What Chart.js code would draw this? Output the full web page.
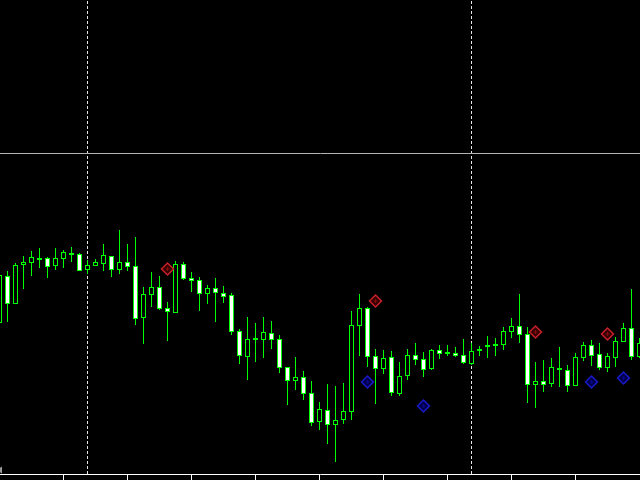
<!DOCTYPE html>
<html>
<head>
<meta charset="utf-8">
<script src="https://cdn.jsdelivr.net/npm/chart.js@4.4.1/dist/chart.umd.min.js"></script>
<style>
    html, body { margin: 0; padding: 0; background: #000; }
    canvas { display: block; }
</style>
</head>
<body>
<canvas id="chart" width="640" height="480"></canvas>
<script>
// prices in points above the bottom of the chart window, one entry per bar
var opens = [
    151, 198, 170, 209, 211, 214, 216, 208, 215, 219,
    220, 204, 208, 210, 218, 204, 212, 208, 156, 179,
    187, 166, 161, 210, 196, 194, 180, 186, 181, 179,
    143, 117, 134, 134, 141, 135, 107, 93, 97, 81,
    52, 64, 49, 54, 62, 148, 166, 118, 105, 117,
    80, 98, 119, 115, 105, 124, 120, 121, 119, 110,
    123, 127, 128, 129, 142, 148, 140, 89, 93, 90,
    104, 104, 88, 116, 129, 120, 106, 116, 132, 146, 117
];
var highs = [
    208, 203, 211, 218, 223, 226, 217, 226, 224, 227,
    221, 214, 215, 230, 218, 244, 230, 237, 187, 202,
    198, 172, 213, 212, 202, 197, 189, 196, 188, 181,
    145, 157, 151, 157, 153, 139, 107, 117, 103, 93,
    72, 90, 88, 91, 163, 180, 167, 125, 124, 123,
    112, 125, 131, 122, 125, 129, 129, 127, 135, 131,
    128, 138, 136, 147, 156, 180, 147, 112, 114, 116,
    127, 109, 121, 132, 134, 131, 121, 137, 151, 185, 136
];
var lows = [
    149, 152, 170, 185, 198, 206, 196, 204, 206, 212,
    203, 200, 208, 203, 197, 200, 203, 149, 130, 167,
    164, 133, 161, 194, 182, 163, 170, 152, 171, 139,
    110, 94, 112, 116, 125, 101, 69, 84, 74, 48,
    44, 30, 12, 50, 54, 118, 107, 70, 100, 78,
    78, 94, 109, 97, 104, 115, 118, 117, 110, 109,
    118, 116, 118, 124, 136, 131, 71, 66, 82, 87,
    87, 82, 88, 113, 108, 104, 102, 107, 132, 114, 116
];
var closes = [
    199, 170, 209, 212, 217, 216, 207, 216, 222, 221,
    203, 209, 212, 219, 204, 212, 207, 155, 180, 187,
    165, 162, 210, 195, 193, 180, 186, 181, 177, 142,
    118, 135, 136, 142, 134, 106, 93, 97, 80, 51,
    65, 49, 54, 63, 149, 166, 117, 105, 116, 81,
    98, 119, 114, 104, 124, 120, 122, 118, 111, 123,
    125, 129, 130, 143, 148, 139, 89, 93, 89, 107,
    106, 88, 117, 129, 118, 106, 118, 133, 146, 117, 131
];

// arrow signals (bar index, price)
var sellBars = [21, 47, 67, 76];
var sellPrices = [205, 173, 142, 140];
var buyBars = [46, 53, 74, 78];
var buyPrices = [92, 68, 92, 96];

// horizontal level and period separators
var levelPrice = 320.5;
var separatorBars = [11, 59];
var axisTickBars = [8, 16, 24, 32, 40, 48, 56, 64, 72];

var GREEN = '#00ff00';

var wicks = [];
var bodies = [];
var bodyColors = [];
for (var i = 0; i < opens.length; i++) {
    wicks.push({x: i, y: [lows[i], highs[i]]});
    bodies.push({x: i, y: [opens[i], closes[i]]});
    // bear candle white, bull candle black
    bodyColors.push(closes[i] < opens[i] ? '#ffffff' : '#000000');
}

var sellPoints = [];
for (var i = 0; i < sellBars.length; i++) {
    sellPoints.push({x: sellBars[i], y: sellPrices[i]});
}
var buyPoints = [];
for (var i = 0; i < buyBars.length; i++) {
    buyPoints.push({x: buyBars[i], y: buyPrices[i]});
}

var xMin = 0.0625;
var xMax = xMin + opens.length - 1;

var datasets = [
    {
        type: 'scatter', data: sellPoints, order: 0,
        pointStyle: 'rectRot', pointRadius: 6, borderWidth: 1.5,
        borderColor: '#c8202c', backgroundColor: 'rgba(90,0,0,0.6)'
    },
    {
        type: 'scatter', data: sellPoints, order: 0,
        pointStyle: 'cross', pointRadius: 2, borderWidth: 1,
        borderColor: '#c8202c'
    },
    {
        type: 'scatter', data: buyPoints, order: 0,
        pointStyle: 'rectRot', pointRadius: 6, borderWidth: 1.5,
        borderColor: '#1a1acc', backgroundColor: 'rgba(0,0,110,0.7)'
    },
    {
        type: 'scatter', data: buyPoints, order: 0,
        pointStyle: 'cross', pointRadius: 2, borderWidth: 1,
        borderColor: '#1a1acc'
    },
    {
        type: 'bar', data: bodies, order: 1, grouped: false,
        barThickness: 5, backgroundColor: bodyColors,
        borderColor: GREEN, borderWidth: 1, borderSkipped: false,
        inflateAmount: 0
    },
    {
        type: 'bar', data: wicks, order: 2, grouped: false,
        barThickness: 1, backgroundColor: GREEN, borderWidth: 0,
        inflateAmount: 0
    },
    {
        type: 'line', order: 3, pointRadius: 0, borderWidth: 1,
        borderColor: '#b4b4b4',
        data: [{x: xMin, y: levelPrice}, {x: xMax + 1, y: levelPrice}]
    },
    {
        // chart shift marker in the lower left corner
        type: 'scatter', order: 0, clip: false,
        pointStyle: 'triangle', pointRadius: 4, rotation: -90,
        borderWidth: 0, backgroundColor: '#9a9a9a',
        data: [{x: xMin, y: 4}]
    }
];

separatorBars.forEach(function (bar) {
    datasets.push({
        type: 'line', order: 3, pointRadius: 0, borderWidth: 1,
        borderColor: '#e6e6e6', borderDash: [3, 2],
        data: [{x: bar, y: 0}, {x: bar, y: 474}]
    });
});

var ctx = document.getElementById('chart').getContext('2d');
var chart = new Chart(ctx, {
    type: 'bar',
    data: {datasets: datasets},
    options: {
        responsive: false,
        animation: false,
        devicePixelRatio: 1,
        layout: {padding: 0, autoPadding: false},
        plugins: {legend: {display: false}, tooltip: {enabled: false}},
        scales: {
            x: {
                type: 'linear',
                min: xMin,
                max: xMax,
                offset: false,
                afterBuildTicks: function (axis) {
                    axis.ticks = axisTickBars.map(function (v) { return {value: v}; });
                },
                ticks: {display: false},
                grid: {
                    offset: false,
                    drawOnChartArea: false, drawTicks: true,
                    tickLength: 6, color: '#ffffff'
                },
                border: {display: true, color: '#ffffff', width: 1}
            },
            y: {
                display: false,
                min: 0,
                max: 474
            }
        }
    }
});
</script>
</body>
</html>
